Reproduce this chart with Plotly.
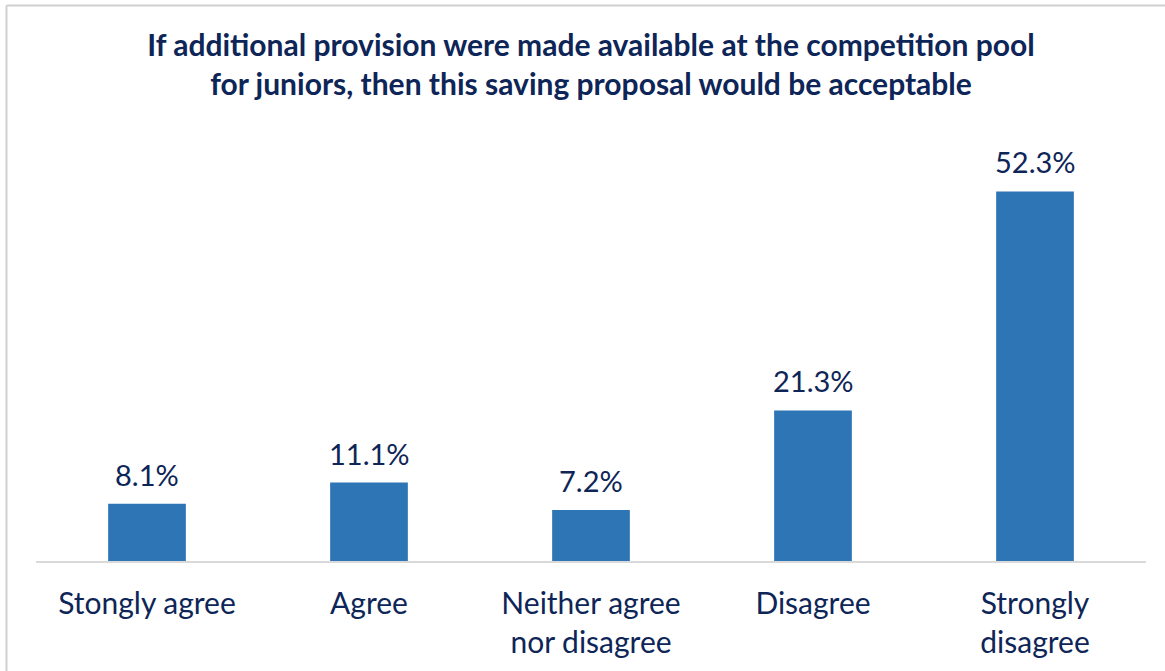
import plotly.graph_objects as go

categories = ["Stongly agree", "Agree", "Neither agree<br>nor disagree", "Disagree", "Strongly<br>disagree"]
values = [8.1, 11.1, 7.2, 21.3, 52.3]
labels = ["8.1%", "11.1%", "7.2%", "21.3%", "52.3%"]

NAVY = "#0E2557"
BLUE = "#2E75B6"
FONT = "Lato"

fig = go.Figure(
    go.Bar(
        x=categories,
        y=values,
        marker=dict(color=BLUE, line=dict(width=0)),
        width=0.35,
        hoverinfo="skip",
    )
)

# Value labels above each bar
for c, v, t in zip(categories, values, labels):
    fig.add_annotation(
        x=c, y=v, text=t, showarrow=False, yanchor="bottom", yshift=10,
        font=dict(family=FONT, size=29, color=NAVY),
    )

# Chart frame (left and top edges)
fig.add_shape(type="line", xref="paper", yref="paper",
              x0=-0.0266, x1=-0.0266, y0=-0.3, y1=1.3101,
              line=dict(color="#D0D0D0", width=2))
fig.add_shape(type="line", xref="paper", yref="paper",
              x0=-0.0266, x1=1.1, y0=1.3101, y1=1.3101,
              line=dict(color="#D0D0D0", width=2))

fig.update_layout(
    width=1165, height=671,
    margin=dict(l=36, r=19, t=137, b=110),
    paper_bgcolor="white", plot_bgcolor="white",
    showlegend=False,
    bargap=0.65,
    title=dict(
        text="<b>If additional provision were made available at the competition pool<br>for juniors, then this saving proposal would be acceptable</b>",
        x=0.5, xref="paper", xanchor="center",
        y=0.916, yref="container", yanchor="middle",
        font=dict(family=FONT, size=30, color=NAVY),
    ),
    xaxis=dict(
        showgrid=False, showline=True, linecolor="#D9D9D9", linewidth=2,
        ticks="", tickfont=dict(family=FONT, size=30, color=NAVY),
        ticklabelstandoff=15, fixedrange=True,
    ),
    yaxis=dict(range=[0, 60], visible=False, fixedrange=True),
)

fig.write_html("out.html")
